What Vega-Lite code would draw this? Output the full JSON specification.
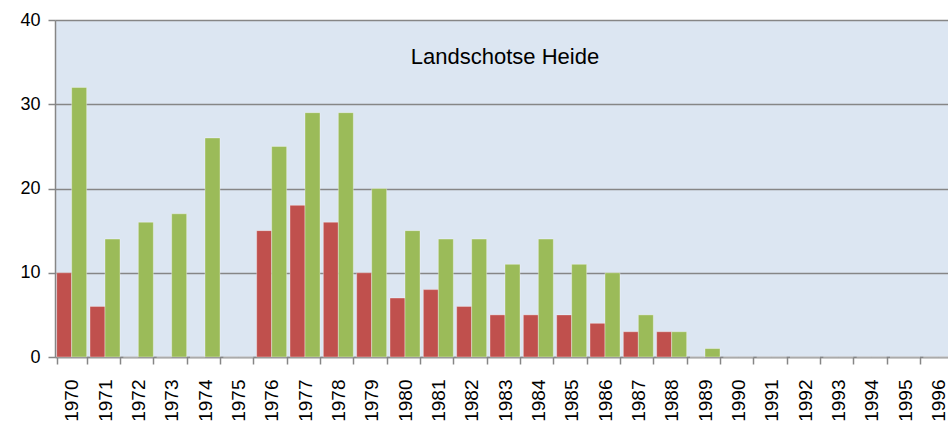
{
  "$schema": "https://vega.github.io/schema/vega-lite/v6.json",
  "autosize": "none",
  "width": 900,
  "height": 337,
  "padding": {"left": 55, "top": 20, "right": 0, "bottom": 68},
  "background": "white",
  "config": {
    "view": {"fill": "#dce6f2", "stroke": null},
    "font": "Liberation Sans"
  },
  "title": {
    "text": "Landschotse Heide",
    "offset": -58,
    "fontSize": 22,
    "fontWeight": "normal",
    "font": "Liberation Sans",
    "color": "#000000",
    "anchor": "middle",
    "frame": "group"
  },
  "data": {
    "values": [
      {"year": "1970", "series": "a", "value": 10}, {"year": "1970", "series": "b", "value": 32},
      {"year": "1971", "series": "a", "value": 6}, {"year": "1971", "series": "b", "value": 14},
      {"year": "1972", "series": "a", "value": 0}, {"year": "1972", "series": "b", "value": 16},
      {"year": "1973", "series": "a", "value": 0}, {"year": "1973", "series": "b", "value": 17},
      {"year": "1974", "series": "a", "value": 0}, {"year": "1974", "series": "b", "value": 26},
      {"year": "1975", "series": "a", "value": 0}, {"year": "1975", "series": "b", "value": 0},
      {"year": "1976", "series": "a", "value": 15}, {"year": "1976", "series": "b", "value": 25},
      {"year": "1977", "series": "a", "value": 18}, {"year": "1977", "series": "b", "value": 29},
      {"year": "1978", "series": "a", "value": 16}, {"year": "1978", "series": "b", "value": 29},
      {"year": "1979", "series": "a", "value": 10}, {"year": "1979", "series": "b", "value": 20},
      {"year": "1980", "series": "a", "value": 7}, {"year": "1980", "series": "b", "value": 15},
      {"year": "1981", "series": "a", "value": 8}, {"year": "1981", "series": "b", "value": 14},
      {"year": "1982", "series": "a", "value": 6}, {"year": "1982", "series": "b", "value": 14},
      {"year": "1983", "series": "a", "value": 5}, {"year": "1983", "series": "b", "value": 11},
      {"year": "1984", "series": "a", "value": 5}, {"year": "1984", "series": "b", "value": 14},
      {"year": "1985", "series": "a", "value": 5}, {"year": "1985", "series": "b", "value": 11},
      {"year": "1986", "series": "a", "value": 4}, {"year": "1986", "series": "b", "value": 10},
      {"year": "1987", "series": "a", "value": 3}, {"year": "1987", "series": "b", "value": 5},
      {"year": "1988", "series": "a", "value": 3}, {"year": "1988", "series": "b", "value": 3},
      {"year": "1989", "series": "a", "value": 0}, {"year": "1989", "series": "b", "value": 1},
      {"year": "1990", "series": "a", "value": 0}, {"year": "1990", "series": "b", "value": 0},
      {"year": "1991", "series": "a", "value": 0}, {"year": "1991", "series": "b", "value": 0},
      {"year": "1992", "series": "a", "value": 0}, {"year": "1992", "series": "b", "value": 0},
      {"year": "1993", "series": "a", "value": 0}, {"year": "1993", "series": "b", "value": 0},
      {"year": "1994", "series": "a", "value": 0}, {"year": "1994", "series": "b", "value": 0},
      {"year": "1995", "series": "a", "value": 0}, {"year": "1995", "series": "b", "value": 0},
      {"year": "1996", "series": "a", "value": 0}, {"year": "1996", "series": "b", "value": 0}
    ]
  },
  "mark": {"type": "bar", "stroke": "#ffffff", "strokeOpacity": 0.35, "strokeWidth": 1},
  "encoding": {
    "x": {
      "field": "year",
      "type": "ordinal",
      "scale": {"paddingInner": 0.1, "paddingOuter": 0.05},
      "axis": {
        "title": null,
        "labelAngle": -90,
        "labelFontSize": 19,
        "labelColor": "#000000",
        "labelPadding": 15,
        "labelBaseline": "middle",
        "labelAlign": "right",
        "tickBand": "extent",
        "tickSize": 7,
        "tickColor": "#868686",
        "tickWidth": 1.5,
        "domainColor": "#868686",
        "domainWidth": 1.5,
        "grid": false
      }
    },
    "xOffset": {"field": "series", "type": "nominal", "scale": {"paddingInner": 0, "paddingOuter": 0}},
    "y": {
      "field": "value",
      "type": "quantitative",
      "scale": {"domain": [0, 40], "nice": false},
      "axis": {
        "title": null,
        "values": [0, 10, 20, 30, 40],
        "labelFontSize": 18,
        "labelColor": "#000000",
        "labelPadding": 8,
        "tickSize": 7,
        "tickColor": "#868686",
        "tickWidth": 1.5,
        "domainColor": "#868686",
        "domainWidth": 1.5,
        "grid": true,
        "gridColor": "#868686",
        "gridWidth": 1.5
      }
    },
    "color": {
      "field": "series",
      "type": "nominal",
      "scale": {"domain": ["a", "b"], "range": ["#c0504d", "#9bbb59"]},
      "legend": null
    }
  }
}
